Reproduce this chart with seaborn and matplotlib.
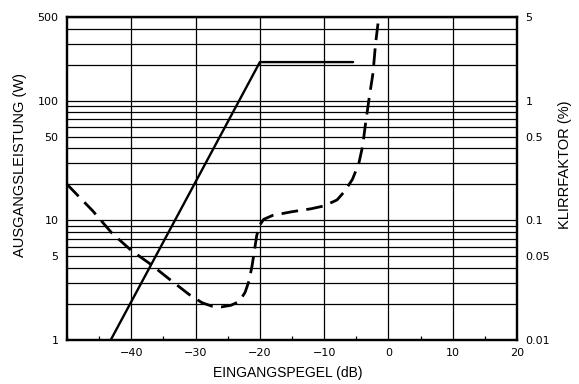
import matplotlib
matplotlib.use("Agg")
import matplotlib.pyplot as plt
import matplotlib.ticker as mticker
import seaborn as sns
import pandas as pd
import numpy as np

# Output power (W) vs input level (dB)
power_x = [-43.2, -20.0, -5.5]
power_y = [1.0, 210.0, 210.0]

# Distortion (%) vs input level (dB)
thd_x = [-50, -46, -43, -40, -37, -34, -31, -29, -27.5, -26, -24.5, -23.2, -22.3,
         -21.7, -21.2, -20.8, -20.5, -20.1, -19.4, -18, -15, -12, -10, -8, -6.8,
         -5.6, -4.6, -4.0, -3.6, -3.0, -2.4, -2.0, -1.5]
thd_y = [0.20, 0.12, 0.078, 0.056, 0.043, 0.032, 0.024, 0.0205, 0.0192, 0.0189,
         0.0195, 0.021, 0.025, 0.031, 0.042, 0.058, 0.074, 0.09, 0.102, 0.11, 0.118,
         0.125, 0.132, 0.148, 0.175, 0.22, 0.30, 0.42, 0.62, 1.05, 1.7, 3.0, 5.0]

left_ticks = [1, 5, 10, 50, 100, 500]
left_labels = ["1", "5", "10", "50", "100", "500"]
right_ticks = [0.01, 0.05, 0.1, 0.5, 1, 5]
right_labels = ["0.01", "0.05", "0.1", "0.5", "1", "5"]
x_ticks = [-40, -30, -20, -10, 0, 10, 20]
x_labels = ["\u221240", "\u221230", "\u221220", "\u221210", "0", "10", "20"]

sns.set_style("white")
plt.rcParams["font.family"] = ["DejaVu Sans"]
plt.rcParams["text.color"] = "black"
plt.rcParams["axes.labelcolor"] = "black"
plt.rcParams["xtick.color"] = "black"
plt.rcParams["ytick.color"] = "black"

fig = plt.figure(figsize=(5.79, 3.84), dpi=100)
ax = fig.add_axes([67/579, 1-340/384, 450/579, 323/384])

ax.set_yscale("log")
ax.set_xlim(-50, 20)
ax.set_ylim(1, 500)

ax.yaxis.set_major_locator(mticker.FixedLocator(left_ticks))
ax.yaxis.set_minor_locator(mticker.LogLocator(base=10, subs=np.arange(1, 10)))
ax.set_yticklabels(left_labels)
ax.yaxis.set_minor_formatter(mticker.NullFormatter())
ax.grid(True, which="both", axis="y", color="black", linewidth=0.9)
ax.set_xticks(x_ticks)
ax.set_xticklabels(x_labels)
ax.xaxis.set_minor_locator(mticker.MultipleLocator(5))
ax.grid(True, which="major", axis="x", color="black", linewidth=0.9)
ax.set_axisbelow(True)

df_p = pd.DataFrame({"x": power_x, "y": power_y})
sns.lineplot(data=df_p, x="x", y="y", ax=ax, color="black", linewidth=1.7)

ax2 = ax.twinx()
ax2.set_yscale("log")
ax2.set_ylim(0.01, 5)
df_t = pd.DataFrame({"x": thd_x, "y": thd_y})
sns.lineplot(data=df_t, x="x", y="y", ax=ax2, color="black", linewidth=2.0)
ax2.lines[0].set_dashes([6, 3])
ax2.set_xlim(-50, 20)
ax2.yaxis.set_major_locator(mticker.FixedLocator(right_ticks))
ax2.yaxis.set_minor_locator(mticker.NullLocator())
ax2.set_yticklabels(right_labels)
ax2.grid(False)

for a in (ax, ax2):
    for s in a.spines.values():
        s.set_linewidth(1.6)
        s.set_color("black")

ax.tick_params(axis="y", which="both", length=0, labelsize=8, pad=6, labelcolor="black")
ax.tick_params(axis="x", which="major", length=0, labelsize=8, pad=6, labelcolor="black")
ax.tick_params(axis="x", which="minor", direction="in", length=3, width=0.9, bottom=True, color="black")
ax2.tick_params(axis="y", which="both", length=0, labelsize=8, pad=6, labelcolor="black")

lab_font = ["Liberation Sans", "DejaVu Sans"]
ax.set_xlabel("EINGANGSPEGEL (dB)", fontsize=10, family=lab_font, color="black")
ax.set_ylabel("AUSGANGSLEISTUNG (W)", fontsize=10.5, family=lab_font, color="black")
ax2.set_ylabel("KLIRRFAKTOR (%)", fontsize=10.5, family=lab_font, color="black")
ax.xaxis.set_label_coords((288 - 67) / 450, -(373 - 340) / 323)
ax.yaxis.set_label_coords((20 - 67) / 450, (340 - 165) / 323)
ax2.yaxis.set_label_coords((565 - 67) / 450, (340 - 165) / 323)
ax.xaxis.label.set_va("center")
ax.yaxis.label.set_va("center")
ax2.yaxis.label.set_va("center")

fig.savefig("out.png", dpi=100)
